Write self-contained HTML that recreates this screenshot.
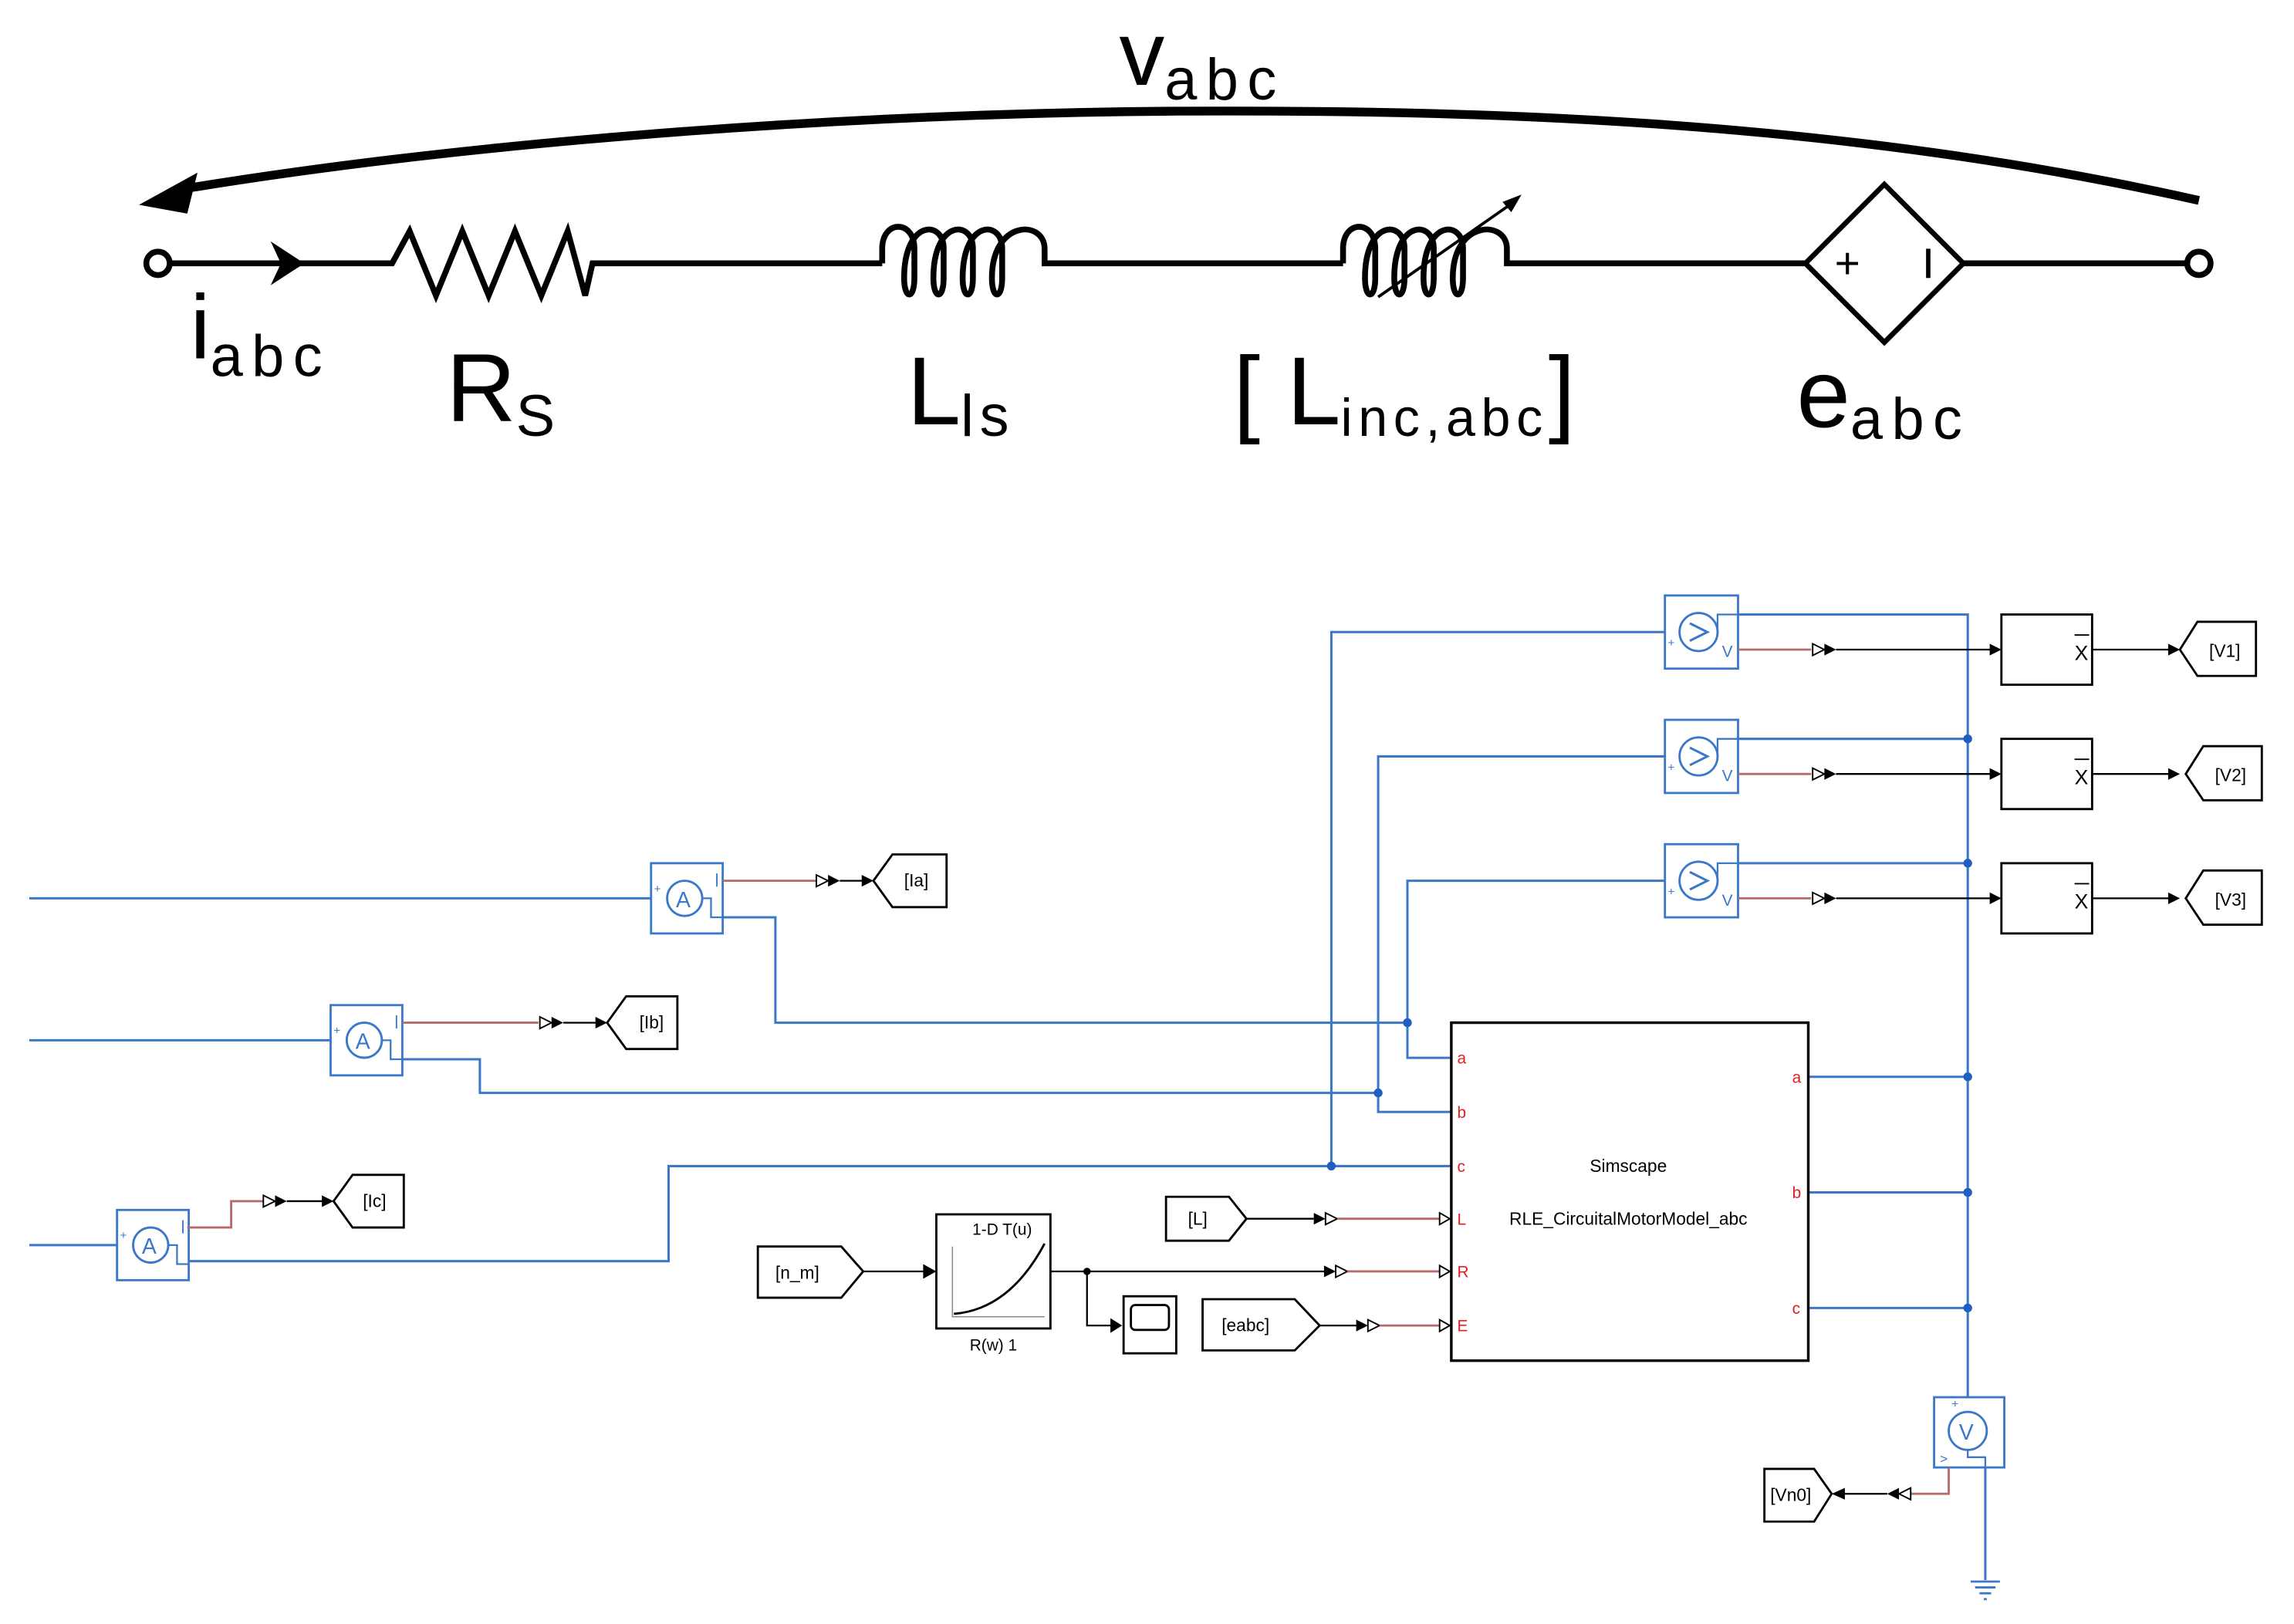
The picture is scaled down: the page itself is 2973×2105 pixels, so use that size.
<!DOCTYPE html>
<html><head><meta charset="utf-8"><style>
html,body{margin:0;padding:0;background:#fff}
svg{display:block}
text{font-family:"Liberation Sans",sans-serif}
</style></head><body>
<svg width="2973" height="2105" viewBox="0 0 1568 1110" preserveAspectRatio="none" xmlns="http://www.w3.org/2000/svg">
<defs>
<g id="dar"><polygon points="0,-4 8,0 0,4" fill="#fff" stroke="#000" stroke-width="1"/><polygon points="8,-4 16,0 8,4" fill="#000"/></g>
<g id="dal"><polygon points="0,-4 8,0 0,4" fill="#000"/><polygon points="8,-4 16,0 8,4" fill="#fff" stroke="#000" stroke-width="1"/></g>
</defs>
<g stroke="#000" stroke-width="4" fill="none">
<path d="M116,180 H268 L280,158 L298,202 L316,158 L334,202 L352,158 L370,202 L388,158 L400,202 L405,180 H603"/>
<path d="M603,180 V170 C603,150 625,150 625,170 V190 C625,205 618,205 618,190 C618,150 645,150 645,170 V190 C645,205 638,205 638,190 C638,150 665,150 665,170 V190 C665,205 658,205 658,190 C658,150 685,150 685,170 V190 C685,205 678,205 678,190 C678,150 714,150 714,170 V180 H918"/>
<path d="M918,180 V170 C918,150 940,150 940,170 V190 C940,205 933,205 933,190 C933,150 960,150 960,170 V190 C960,205 953,205 953,190 C953,150 980,150 980,170 V190 C980,205 973,205 973,190 C973,150 1000,150 1000,170 V190 C1000,205 993,205 993,190 C993,150 1030,150 1030,170 V180 H1235"/>
<path d="M1342,180 H1495"/>
<path d="M1288,126 L1342,180 L1288,234 L1234,180 Z" stroke-width="3.5"/>
<path d="M1503,137 C1250,80 1000,75 800,76 C550,78 300,100 120,130" stroke-width="6"/>
</g>
<line x1="942" y1="203" x2="1032" y2="140" stroke="#000" stroke-width="2"/>
<polygon points="1040,133 1027,138 1033,145" fill="#000"/>
<polygon points="95,140 135,118 128,146" fill="#000"/>
<polygon points="185,165 208,180 185,195 192,180" fill="#000"/>
<circle cx="108" cy="180" r="8" fill="#fff" stroke="#000" stroke-width="4"/>
<circle cx="1503" cy="180" r="8" fill="#fff" stroke="#000" stroke-width="4"/>
<text x="1254" y="190" font-size="30" fill="#000">+</text>
<line x1="1318" y1="170" x2="1318" y2="190" stroke="#000" stroke-width="3"/>
<g fill="#000" font-family="DejaVu Sans Condensed, DejaVu Sans, sans-serif">
<text x="765" y="58" font-size="62">v<tspan font-size="40" dy="10" letter-spacing="6">abc</tspan></text>
<text x="130" y="245" font-size="62">i<tspan font-size="40" dy="12" letter-spacing="6">abc</tspan></text>
<text x="305" y="288" font-size="66">R<tspan font-size="40" dy="10">S</tspan></text>
<text x="620" y="290" font-size="66">L<tspan font-size="40" dy="8" letter-spacing="4">ls</tspan></text>
<text x="843" y="290" font-size="66">[ L<tspan font-size="36" dy="8" letter-spacing="4">inc,abc</tspan><tspan dy="-8">]</tspan></text>
<text x="1228" y="292" font-size="66">e<tspan font-size="40" dy="8" letter-spacing="6">abc</tspan></text>
</g>

<g stroke="#3c78c8" stroke-width="1.6" fill="none">
<path d="M1138,432 H910 V797"/>
<path d="M1138,517 H942 V760 H992"/>
<path d="M1138,602 H962 V723 H992"/>
<path d="M1182,432 V420 H1345 V955"/>
<path d="M1182,517 V505 H1345"/>
<path d="M1182,602 V590 H1345"/>
<path d="M1236,736 H1345 M1236,815 H1345 M1236,894 H1345"/>
<path d="M20,614 H445 M488,620 V627 H530 V699 H962"/>
<path d="M20,711 H226 M269,717 V724 H328 V747 H942"/>
<path d="M20,851 H80 M122,857 V862 H457 V797 H992"/>
<path d="M1357,1003 V1080"/>
</g>
<g fill="#1f5fbf">
<circle cx="1345" cy="505" r="3"/><circle cx="1345" cy="590" r="3"/>
<circle cx="1345" cy="736" r="3"/><circle cx="1345" cy="815" r="3"/><circle cx="1345" cy="894" r="3"/>
<circle cx="962" cy="699" r="3"/><circle cx="942" cy="747" r="3"/><circle cx="910" cy="797" r="3"/>
</g>
<g stroke="#3c78c8" stroke-width="1.5"><line x1="1347" y1="1081" x2="1367" y2="1081"/><line x1="1350" y1="1085" x2="1364" y2="1085"/><line x1="1353" y1="1089" x2="1361" y2="1089"/><line x1="1356" y1="1093" x2="1358" y2="1093"/></g>

<g id="vs">
<rect x="1138" y="407" width="50" height="50" fill="#fff" stroke="#3c78c8" stroke-width="1.5"/>
<circle cx="1161" cy="432" r="13" fill="#fff" stroke="#3c78c8" stroke-width="1.5"/>
<path d="M1155,426 L1167,432 L1155,438" fill="none" stroke="#3c78c8" stroke-width="1.6"/>
<path d="M1174,432 V420 H1188" fill="none" stroke="#3c78c8" stroke-width="1.2"/>
<text x="1140" y="442" font-size="8" fill="#3c78c8">+</text>
<text x="1177" y="449" font-size="11" fill="#3c78c8">V</text>
</g>
<use href="#vs" y="85"/><use href="#vs" y="170"/>
<g id="vo">
<line x1="1188" y1="444" x2="1238" y2="444" stroke="#b86a6a" stroke-width="1.5"/>
<use href="#dar" x="1239" y="444"/>
<line x1="1255" y1="444" x2="1362" y2="444" stroke="#000" stroke-width="1.2"/>
<polygon points="1360,440 1368,444 1360,448" fill="#000"/>
<rect x="1368" y="420" width="62" height="48" fill="#fff" stroke="#000" stroke-width="1.5"/>
<line x1="1418" y1="434" x2="1428" y2="434" stroke="#000" stroke-width="1"/>
<text x="1418" y="451" font-size="14" fill="#000">X</text>
<line x1="1430" y1="444" x2="1484" y2="444" stroke="#000" stroke-width="1.2"/>
<polygon points="1482,440 1490,444 1482,448" fill="#000"/>
</g>
<use href="#vo" y="85"/><use href="#vo" y="170"/>
<g fill="#fff" stroke="#000" stroke-width="1.5">
<path d="M1490,444 L1502,425 H1542 V462 H1502 Z"/>
<path d="M1494,529 L1506,510 H1546 V547 H1506 Z"/>
<path d="M1494,614 L1506,595 H1546 V632 H1506 Z"/>
</g>
<g font-size="12" fill="#000">
<text x="1510" y="449">[V1]</text><text x="1514" y="534">[V2]</text><text x="1514" y="619">[V3]</text>
</g>

<g id="am">
<rect x="445" y="590" width="49" height="48" fill="#fff" stroke="#3c78c8" stroke-width="1.5"/>
<circle cx="468" cy="614" r="12" fill="#fff" stroke="#3c78c8" stroke-width="1.5"/>
<text x="462" y="620" font-size="15" fill="#3c78c8">A</text>
<path d="M480,614 H486 V627 H494" fill="none" stroke="#3c78c8" stroke-width="1.2"/>
<text x="447" y="610" font-size="8" fill="#3c78c8">+</text>
<line x1="490" y1="597" x2="490" y2="606" stroke="#3c78c8" stroke-width="1"/>
</g>
<use href="#am" x="-219" y="97"/><use href="#am" x="-365" y="237"/>
<g stroke="#b86a6a" stroke-width="1.5" fill="none">
<path d="M494,602 H558"/><path d="M275,699 H368"/><path d="M128,839 H158 V821 H180"/>
</g>
<use href="#dar" x="558" y="602"/><line x1="574" y1="602" x2="592" y2="602" stroke="#000" stroke-width="1.2"/><polygon points="589,598 597,602 589,606" fill="#000"/>
<use href="#dar" x="369" y="699"/><line x1="385" y1="699" x2="410" y2="699" stroke="#000" stroke-width="1.2"/><polygon points="407,695 415,699 407,703" fill="#000"/>
<use href="#dar" x="180" y="821"/><line x1="196" y1="821" x2="223" y2="821" stroke="#000" stroke-width="1.2"/><polygon points="220,817 228,821 220,825" fill="#000"/>
<g fill="#fff" stroke="#000" stroke-width="1.5">
<path d="M597,602 L610,584 H647 V620 H610 Z"/>
<path d="M415,699 L428,681 H463 V717 H428 Z"/>
<path d="M228,821 L241,803 H276 V839 H241 Z"/>
</g>
<g font-size="12" fill="#000"><text x="618" y="606">[Ia]</text><text x="437" y="703">[Ib]</text><text x="248" y="825">[Ic]</text></g>

<rect x="992" y="699" width="244" height="231" fill="#fff" stroke="#000" stroke-width="1.8"/>
<text x="1113" y="801" font-size="12" text-anchor="middle">Simscape</text>
<text x="1113" y="837" font-size="12" text-anchor="middle">RLE_CircuitalMotorModel_abc</text>
<g font-size="11" fill="#e02020">
<text x="996" y="727">a</text><text x="996" y="764">b</text><text x="996" y="801">c</text>
<text x="996" y="837">L</text><text x="996" y="873">R</text><text x="996" y="910">E</text>
<text x="1225" y="740">a</text><text x="1225" y="819">b</text><text x="1225" y="898">c</text>
</g>

<path d="M797,818 H840 L852,833 L840,848 H797 Z" fill="#fff" stroke="#000" stroke-width="1.5"/>
<text x="812" y="837" font-size="12">[L]</text>
<line x1="852" y1="833" x2="898" y2="833" stroke="#000" stroke-width="1.2"/>
<use href="#dal" x="898" y="833"/>
<line x1="914" y1="833" x2="984" y2="833" stroke="#b86a6a" stroke-width="1.5"/>
<polygon points="984,829 991,833 984,837" fill="#fff" stroke="#000"/>

<path d="M518,852 H575 L590,869 L575,887 H518 Z" fill="#fff" stroke="#000" stroke-width="1.5"/>
<text x="530" y="874" font-size="12">[n_m]</text>
<line x1="590" y1="869" x2="632" y2="869" stroke="#000" stroke-width="1.2"/>
<polygon points="631,864 640,869 631,874" fill="#000"/>
<rect x="640" y="830" width="78" height="78" fill="#fff" stroke="#000" stroke-width="1.5"/>
<text x="685" y="844" font-size="11" text-anchor="middle">1-D T(u)</text>
<path d="M651,852 V900 H714" fill="none" stroke="#888" stroke-width="0.8"/>
<path d="M652,898 Q690,895 714,850" fill="none" stroke="#000" stroke-width="1.5"/>
<text x="679" y="923" font-size="11" text-anchor="middle">R(w) 1</text>
<line x1="718" y1="869" x2="905" y2="869" stroke="#000" stroke-width="1.2"/>
<circle cx="743" cy="869" r="2.5" fill="#000"/>
<use href="#dal" x="905" y="869"/>
<line x1="921" y1="869" x2="984" y2="869" stroke="#b86a6a" stroke-width="1.5"/>
<polygon points="984,865 991,869 984,873" fill="#fff" stroke="#000"/>
<path d="M743,869 V906 H760" fill="none" stroke="#000" stroke-width="1.2"/>
<polygon points="759,901 767,906 759,911" fill="#000"/>
<rect x="768" y="886" width="36" height="39" fill="#fff" stroke="#000" stroke-width="1.5"/>
<rect x="773" y="892" width="26" height="17" rx="3" fill="#fff" stroke="#000" stroke-width="1.5"/>
<path d="M822,888 H885 L902,906 L885,923 H822 Z" fill="#fff" stroke="#000" stroke-width="1.5"/>
<text x="835" y="910" font-size="12">[eabc]</text>
<line x1="902" y1="906" x2="927" y2="906" stroke="#000" stroke-width="1.2"/>
<use href="#dal" x="927" y="906"/>
<line x1="943" y1="906" x2="984" y2="906" stroke="#b86a6a" stroke-width="1.5"/>
<polygon points="984,902 991,906 984,910" fill="#fff" stroke="#000"/>

<rect x="1322" y="955" width="48" height="48" fill="#fff" stroke="#3c78c8" stroke-width="1.5"/>
<circle cx="1345" cy="978" r="13" fill="#fff" stroke="#3c78c8" stroke-width="1.5"/>
<text x="1339" y="984" font-size="15" fill="#3c78c8">V</text>
<text x="1334" y="962" font-size="8" fill="#3c78c8">+</text>
<path d="M1345,991 V996 H1357 V1003" fill="none" stroke="#3c78c8" stroke-width="1.2"/>
<text x="1326" y="1000" font-size="9" fill="#3c78c8">&gt;</text>
<path d="M1332,1003 V1021 H1306" fill="none" stroke="#b86a6a" stroke-width="1.5"/>
<polygon points="1306,1017 1298,1021 1306,1025" fill="#fff" stroke="#000"/>
<polygon points="1298,1017 1290,1021 1298,1025" fill="#000"/>
<line x1="1290" y1="1021" x2="1258" y2="1021" stroke="#000" stroke-width="1.2"/>
<polygon points="1261,1017 1252,1021 1261,1025" fill="#000"/>
<path d="M1206,1004 H1240 L1252,1021 L1240,1040 H1206 Z" fill="#fff" stroke="#000" stroke-width="1.5"/>
<text x="1210" y="1026" font-size="12">[Vn0]</text>
</svg>
</body></html>
